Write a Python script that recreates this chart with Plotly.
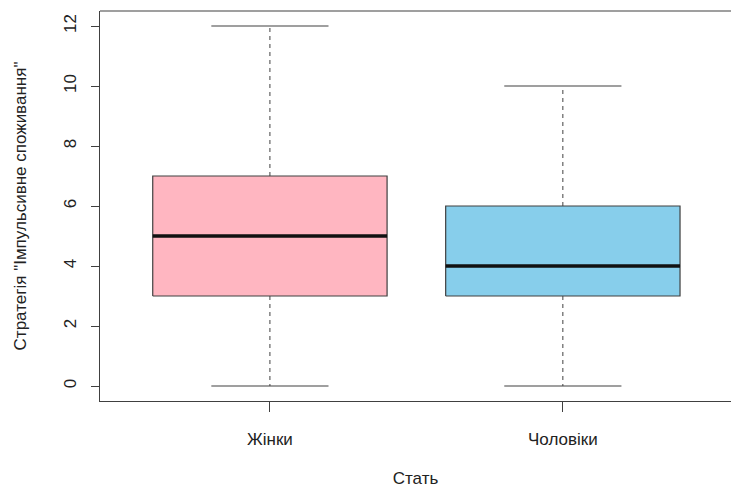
import plotly.graph_objects as go

categories = ["Жінки", "Чоловіки"]
mins = [0, 0]
q1s = [3, 3]
medians = [5, 4]
q3s = [7, 6]
maxs = [12, 10]
fills = ["#FFB6C1", "#87CEEB"]
y_ticks = [0, 2, 4, 6, 8, 10, 12]

BOXW = 0.8
CAPW = 0.4
EDGE = "#404040"

fig = go.Figure()
for i, cat in enumerate(categories):
    x = i + 1
    # whiskers (dashed)
    fig.add_trace(go.Scatter(x=[x, x, None, x, x], y=[q3s[i], maxs[i], None, q1s[i], mins[i]],
                             mode="lines", line=dict(color=EDGE, width=1, dash="4px,4px"),
                             showlegend=False, hoverinfo="skip"))
    # caps
    fig.add_trace(go.Scatter(x=[x - CAPW / 2, x + CAPW / 2, None, x - CAPW / 2, x + CAPW / 2],
                             y=[maxs[i], maxs[i], None, mins[i], mins[i]],
                             mode="lines", line=dict(color=EDGE, width=1.2),
                             showlegend=False, hoverinfo="skip"))
    # box
    fig.add_trace(go.Scatter(x=[x - BOXW / 2, x + BOXW / 2, x + BOXW / 2, x - BOXW / 2, x - BOXW / 2],
                             y=[q1s[i], q1s[i], q3s[i], q3s[i], q1s[i]],
                             mode="lines", fill="toself", fillcolor=fills[i],
                             line=dict(color=EDGE, width=1.2),
                             showlegend=False, hoverinfo="skip"))
    # median
    fig.add_trace(go.Scatter(x=[x - BOXW / 2, x + BOXW / 2], y=[medians[i], medians[i]],
                             mode="lines", line=dict(color="#111111", width=3.5),
                             showlegend=False, hoverinfo="skip"))

FONT = "Liberation Sans, Arial, sans-serif"

fig.update_layout(
    width=731, height=488,
    margin=dict(l=100, r=0, t=11, b=87),
    paper_bgcolor="white", plot_bgcolor="white",
    font=dict(family=FONT, size=17, color="#222222"),
    xaxis=dict(range=[0.42, 2.574], tickvals=[1, 2], ticktext=categories,
               ticks="outside", ticklen=10, tickcolor=EDGE, tickwidth=1,
               showline=True, linecolor=EDGE, linewidth=1.2,
               showgrid=False, zeroline=False, ticklabelstandoff=12,
               automargin=False,
               title=dict(text="Стать", font=dict(size=17), standoff=24)),
    yaxis=dict(range=[-0.5, 12.5], tickvals=y_ticks, ticktext=[str(v) for v in y_ticks],
               ticks="outside", ticklen=8, tickcolor=EDGE, tickwidth=1,
               tickangle=-90, showline=True, linecolor=EDGE, linewidth=1.2,
               showgrid=False, zeroline=False, ticklabelstandoff=8,
               automargin=False,
               title=dict(text="Стратегія \"Імпульсивне споживання\"", font=dict(size=17), standoff=30)),
    shapes=[dict(type="line", xref="paper", yref="paper", x0=0, x1=1, y0=1, y1=1,
                 line=dict(color=EDGE, width=1.2))],
)

fig.write_html("out.html", config={"displayModeBar": False},
               post_script="document.body.style.margin='0';")
